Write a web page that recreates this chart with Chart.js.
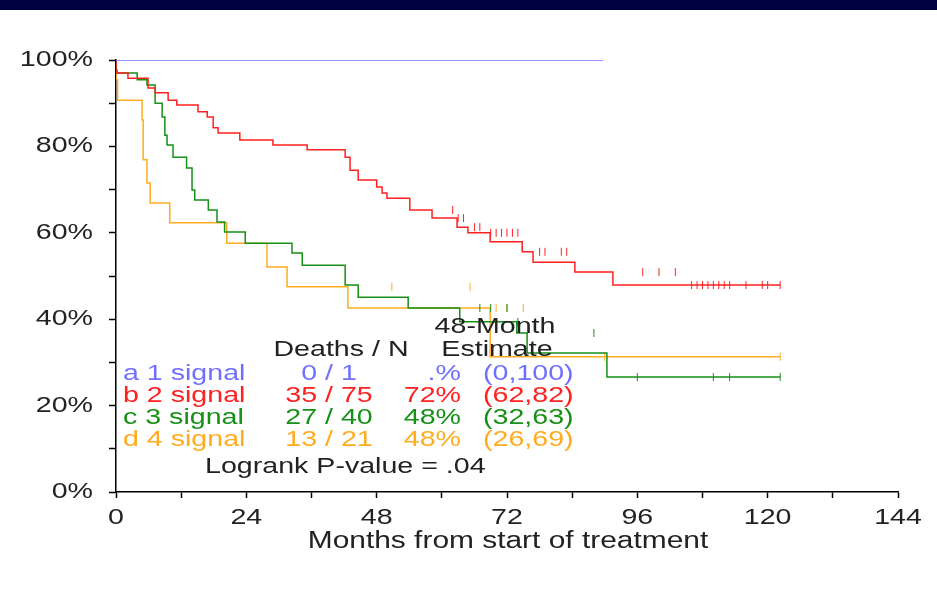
<!DOCTYPE html>
<html>
<head>
<meta charset="utf-8">
<script src="https://cdn.jsdelivr.net/npm/chart.js@4/dist/chart.umd.min.js"></script>
<style>
  body { margin: 0; background: #fff; }
  canvas { display: block; }
</style>
</head>
<body>
<canvas id="km" width="937" height="601"></canvas>
<script>
// step curves: month where survival drops, survival (%) from that month on
var blueT = [0, 89.7];
var blueS = [100, 100];

var redT = [0, 2.2, 5.9, 7.2, 9.6, 11.2, 15.1, 16.8, 17.9, 18.8, 22.8, 28.9, 35.2, 42.2, 43.1, 44.6, 48, 49, 49.9, 54.1, 58.2, 62.8, 64.8, 68.9, 74.8, 76.8, 84.5, 91.5, 105.2, 122.3];
var redS = [100, 97, 95.8, 93.5, 92.4, 90.7, 89.6, 88, 86.8, 84.3, 83.1, 81.5, 80.3, 79.2, 77.5, 74.5, 72.2, 70.6, 69.2, 68, 65.3, 63.4, 61.3, 60, 57.9, 55.6, 53.2, 50.9, 47.9, 47.9];
var redCensT = [62, 63, 64, 66, 67, 69, 70, 71, 72, 73, 74, 78, 79, 82, 83, 97, 100, 103, 106, 107, 108, 109, 110, 111, 112, 113, 116, 119, 120, 122.3];

var greenT = [0, 0.2, 3.9, 5.7, 7.2, 8.5, 9, 9.4, 10.5, 13, 14, 14.5, 17, 18.6, 20, 23.8, 32.4, 34.3, 42.2, 44.6, 53.8, 63.3, 73.8, 75.7, 90.4, 95.2, 122.3];
var greenS = [100, 97.7, 97, 95.4, 94.2, 90, 86.8, 82.6, 80.3, 77.5, 75, 69.9, 67.6, 65.3, 62.5, 60.2, 57.6, 55.3, 52.5, 47.9, 45.1, 42.6, 39.4, 36.8, 32.2, 26.6, 26.6];
var greenCensT = [67, 69, 72, 74, 88, 96, 110, 113, 122.3];

var orangeT = [0, 0.3, 4.8, 5, 5.7, 6.3, 9.9, 20.4, 27.8, 31.5, 42.7, 68.9, 84.2, 122.3];
var orangeS = [100, 95.4, 90.7, 86.1, 76.9, 71.5, 66.9, 62.3, 57.6, 52.1, 47.5, 42.6, 31.3, 31.3];
var orangeCensT = [50.8, 65.2, 70, 72, 75, 90, 122.3];

var xTicks = [0, 24, 48, 72, 96, 120, 144];
var yTicks = [0, 20, 40, 60, 80, 100];

function pts(t, s) {
  return t.map(function (v, i) { return { x: v, y: s[i] }; });
}
// censor marks sit on the curve value at that time
function cens(t, ct, s) {
  return ct.map(function (c) {
    var y = s[0];
    for (var i = 0; i < t.length; i++) { if (t[i] <= c) y = s[i]; }
    return { x: c, y: y };
  });
}
function curve(t, s, col) {
  return { type: 'line', data: pts(t, s), stepped: 'after', borderColor: col, borderWidth: 1.5, pointRadius: 0, fill: false };
}
function marks(t, ct, s, col) {
  return { type: 'scatter', data: cens(t, ct, s), pointStyle: 'line', rotation: 90, radius: 4, borderColor: col, borderWidth: 1, pointHoverRadius: 4 };
}

var BLUE = '#7070ff', RED = '#ff2020', GREEN = '#169016', ORANGE = '#ffac20';
var SX = 1.3;

// the reference text is stretched sideways
function txt(x, s, px, py, align) {
  var w = x.measureText(s).width * SX;
  var left = align === 'center' ? px - w / 2 : align === 'right' ? px - w : px;
  x.save();
  x.translate(left, py);
  x.scale(SX, 1);
  x.textAlign = 'left';
  x.fillText(s, 0, 0);
  x.restore();
}

var textPlugin = {
  id: 'texts',
  beforeDraw: function (c) {
    var x = c.ctx;
    x.save();
    x.fillStyle = '#fff';
    x.fillRect(0, 0, 937, 601);
    x.fillStyle = '#000040';
    x.fillRect(0, 0, 937, 10);
    x.restore();
  },
  afterDraw: function (c) {
    var x = c.ctx;
    x.save();
    x.font = '22px "Liberation Sans", Arial, sans-serif';
    x.textBaseline = 'middle';
    x.fillStyle = '#222';
    xTicks.forEach(function (v) { txt(x, String(v), c.scales.x.getPixelForValue(v), 518, 'center'); });
    yTicks.forEach(function (v) { txt(x, v + '%', 93, c.scales.y.getPixelForValue(v), 'right'); });
    txt(x, '48-Month', 495, 327, 'center');
    txt(x, 'Deaths / N', 341, 350, 'center');
    txt(x, 'Estimate', 497, 350, 'center');
    var rows = [
      ['a 1 signal', '0 / 1', '.%', '(0,100)', BLUE],
      ['b 2 signal', '35 / 75', '72%', '(62,82)', RED],
      ['c 3 signal', '27 / 40', '48%', '(32,63)', GREEN],
      ['d 4 signal', '13 / 21', '48%', '(26,69)', ORANGE]
    ];
    rows.forEach(function (r, i) {
      var y = 374 + i * 22;
      x.fillStyle = r[4];
      txt(x, r[0], 123, y, 'left');
      txt(x, r[1], 329, y, 'center');
      txt(x, r[2], 461, y, 'right');
      txt(x, r[3], 483, y, 'left');
    });
    x.fillStyle = '#222';
    txt(x, 'Logrank P-value = .04', 205, 467, 'left');
    x.font = '23px "Liberation Sans", Arial, sans-serif';
    txt(x, 'Months from start of treatment', 508, 542, 'center');
    x.restore();
  }
};

new Chart(document.getElementById('km'), {
  data: {
    datasets: [
      curve(blueT, blueS, BLUE),
      curve(redT, redS, RED), marks(redT, redCensT, redS, RED),
      curve(greenT, greenS, GREEN), marks(greenT, greenCensT, greenS, GREEN),
      curve(orangeT, orangeS, ORANGE), marks(orangeT, orangeCensT, orangeS, ORANGE)
    ]
  },
  options: {
    responsive: false,
    animation: false,
    events: [],
    layout: { padding: { top: 60, right: 39, left: 0, bottom: 0 } },
    plugins: { legend: { display: false }, tooltip: { enabled: false } },
    scales: {
      x: {
        type: 'linear', min: 0, max: 144,
        afterFit: function (s) { s.height = 109; },
        grid: { drawOnChartArea: false, color: '#000', tickLength: 6, tickWidth: 1.5 },
        border: { color: '#000', width: 1.5 },
        ticks: { stepSize: 12, display: true, color: 'rgba(0,0,0,0)', font: { size: 4 }, padding: 0, maxRotation: 0 }
      },
      y: {
        min: 0, max: 100,
        ticks: { stepSize: 10, color: 'rgba(0,0,0,0)', font: { size: 4 }, padding: 0 },
        afterFit: function (s) { s.width = 116; },
        grid: { drawOnChartArea: false, color: '#000', tickLength: 7, tickWidth: 1.5 },
        border: { color: '#000', width: 1.5 }
      }
    }
  },
  plugins: [textPlugin]
});
</script>
</body>
</html>
